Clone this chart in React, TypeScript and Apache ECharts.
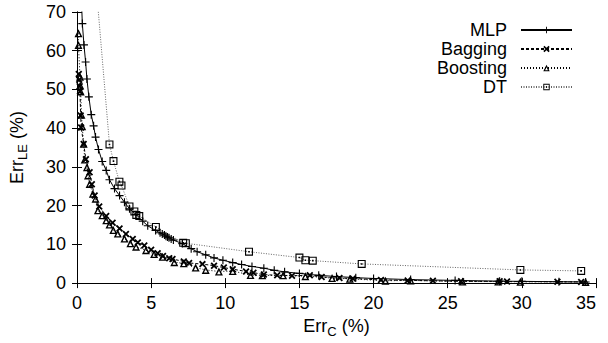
import React, { useEffect, useRef } from "react";
import * as echarts from "echarts";

const seriesNames = ["MLP", "Bagging", "Boosting", "DT"];
const xTicks = { min: 0, max: 35, interval: 5 };
const yTicks = { min: 0, max: 70, interval: 10 };

const mlp: number[][] = [
  [0.28, 75], [0.36, 67], [0.47, 61.5], [0.58, 57.1], [0.67, 52.7], [0.8, 48.1],
  [0.96, 43.5], [1.12, 40.6], [1.25, 37.7], [1.45, 34.5], [1.7, 31.4], [1.97, 29.1],
  [2.19, 26.7], [2.53, 24.4], [2.87, 22.6], [3.2, 20.9], [3.54, 19.2], [3.98, 17.7],
  [4.43, 16], [4.77, 14.8], [5.3, 13.6], [5.6, 13.0], [5.75, 12.7], [5.9, 12.4],
  [6.0, 12.1], [6.1, 11.9], [6.2, 11.7], [6.35, 11.4], [6.5, 11.1], [7.1, 10.2],
  [7.7, 8.9], [8.1, 8.1], [8.68, 7.3], [9.24, 6.5], [9.84, 5.9], [10.5, 5.3],
  [11.1, 4.8], [11.8, 4.3], [12.6, 3.85], [13.3, 3.3], [14, 2.9], [15, 2.5],
  [16.3, 2.0], [17.5, 1.7], [18.8, 1.4], [20, 1.2], [22.5, 0.9], [25.5, 0.7],
  [28.5, 0.5], [30, 0.45], [32.5, 0.35], [34.3, 0.3],
];

const bagging: number[][] = [
  [0.12, 54], [0.15, 52.5], [0.18, 50.8], [0.2, 49.5], [0.25, 43.3], [0.28, 40.2],
  [0.45, 35.9], [0.6, 32], [0.85, 28.6], [1.0, 25.5], [1.19, 22.6], [1.5, 19.8],
  [1.97, 17.3], [2.4, 15.6], [2.87, 14.1], [3.3, 12.7], [3.76, 11.4], [4.1, 10.5],
  [4.54, 9.7], [5.0, 8.6], [5.44, 7.7], [5.8, 7.0], [6.22, 6.4], [6.44, 6.2],
  [7.2, 5.6], [7.56, 5.2], [8.46, 4.9], [9.24, 4.5], [9.9, 4.0], [10.5, 3.6],
  [11.4, 3.0], [11.9, 2.7], [12.6, 2.2], [13.5, 2.0], [14.5, 1.9], [15.7, 2.0],
  [16.5, 1.6], [17.7, 1.3], [18.6, 1.2], [20.5, 0.8], [22.3, 0.7], [24.0, 0.6],
  [25.9, 0.45], [28.5, 0.45], [29.0, 0.4], [32.4, 0.35], [34.0, 0.3],
];

const boosting: number[][] = [
  [0.1, 64.5], [0.1, 61.5], [0.2, 53.3], [0.22, 51], [0.25, 49.5], [0.3, 43.5],
  [0.35, 40.5], [0.45, 36], [0.52, 31.9], [0.67, 29.9], [0.74, 27.8], [0.85, 25.6],
  [1.07, 23.1], [1.25, 21.8], [1.41, 18.8], [1.7, 17.5], [1.97, 16.2], [2.19, 15.1],
  [2.45, 13.7], [2.75, 12.8], [3.2, 11.5], [3.6, 10.3], [3.98, 9.4], [4.65, 8.5],
  [5.2, 7.5], [5.77, 6.8], [6.56, 5.4], [7.2, 5.1], [8.0, 4.0], [8.68, 3.4],
  [9.57, 3.0], [10.5, 3.1], [11.7, 2.1], [12.5, 2.0], [13.9, 2.0], [15.4, 1.8],
  [17.2, 1.3], [18.4, 1.1], [20.8, 0.6], [22.5, 0.7], [26.0, 0.4], [28.4, 0.4],
  [29.9, 0.35], [34.3, 0.3],
];

const dt: number[][] = [
  [1.0, 90], [2.19, 35.8], [2.46, 31.5], [2.86, 26.2], [3.0, 25.2], [3.54, 19.8],
  [3.87, 18.5], [4.0, 17.6], [4.2, 17.3], [5.32, 14.5], [7.16, 10.4], [7.34, 10.3],
  [11.6, 8.1], [15.0, 6.6], [15.4, 5.9], [15.9, 5.8], [19.2, 4.95], [29.9, 3.4],
  [34.0, 3.15],
];

const PLUS = "path://M4.3,0H5.7V10H4.3ZM0,4.3H10V5.7H0Z";
const CROSS = "path://M0,1.8L1.8,0L10,8.2L8.2,10ZM8.2,0L10,1.8L1.8,10L0,8.2Z";
const TRI = "path://M5,0L10,9H0ZM5,3.4L2.8,7.5H7.2Z";
const BOX = "path://M0,0H10V10H0ZM1.4,1.4V8.6H8.6V1.4ZM4,4H6V6H4Z";

const FONT = "Liberation Sans";

export default function App() {
  const ref = useRef<HTMLDivElement>(null);
  useEffect(() => {
    if (!ref.current) return;
    const chart = echarts.init(ref.current, undefined, { renderer: "svg" });
    const axisCommon = {
      axisLine: { show: true, lineStyle: { color: "#000", width: 1 } },
      axisTick: { show: true, inside: true, length: 5, lineStyle: { color: "#000", width: 1 } },
      splitLine: { show: false },
    };
    const rich = {
      n: { fontSize: 18, fontFamily: FONT, color: "#000", lineHeight: 24, verticalAlign: "middle" },
      s: { fontSize: 13, fontFamily: FONT, color: "#000", lineHeight: 13, verticalAlign: "bottom" },
    };
    const mk = (name: string, data: number[][], symbol: string, size: number, lineType: any, lineColor: string) => ({
      name,
      type: "line",
      data,
      xAxisIndex: 0,
      yAxisIndex: 0,
      symbol,
      symbolSize: size,
      showSymbol: true,
      clip: true,
      lineStyle: { color: lineColor, width: 1, type: lineType },
      itemStyle: { color: "#000", borderWidth: 0 },
      emphasis: { disabled: true },
    });
    chart.setOption({
      animation: false,
      grid: { left: 74, right: 12, top: 12, bottom: 58, containLabel: false },
      legend: {
        orient: "vertical",
        align: "right",
        right: 35,
        top: 21,
        padding: 0,
        itemWidth: 51,
        itemHeight: 8,
        itemGap: 1,
        selectedMode: false,
        data: seriesNames,
        textStyle: { fontFamily: FONT, fontSize: 18, color: "#000", lineHeight: 18, padding: [0, 9, 0, 0] },
      },
      xAxis: [
        {
          type: "value",
          position: "bottom",
          ...xTicks,
          ...axisCommon,
          axisLabel: { fontFamily: FONT, fontSize: 18, color: "#000", margin: 11, alignMaxLabel: "right" },
          name: "{n|Err}{s|C}{n| (%)}",
          nameLocation: "middle",
          nameGap: 28,
          nameTextStyle: { rich },
        },
        {
          type: "value",
          position: "top",
          ...xTicks,
          ...axisCommon,
          axisLabel: { show: false },
        },
      ],
      yAxis: [
        {
          type: "value",
          position: "left",
          ...yTicks,
          ...axisCommon,
          axisLabel: { fontFamily: FONT, fontSize: 18, color: "#000", margin: 11 },
          name: "{n|Err}{s|LE}{n| (%)}",
          nameLocation: "middle",
          nameRotate: 90,
          nameGap: 48,
          nameTextStyle: { rich },
        },
        {
          type: "value",
          position: "right",
          ...yTicks,
          ...axisCommon,
          axisLabel: { show: false },
        },
      ],
      series: [
        mk("DT", dt, BOX, 8, [1, 1.5], "#666"),
        mk("Boosting", boosting, TRI, 8, [1, 2], "#000"),
        mk("Bagging", bagging, CROSS, 7, [3, 2], "#000"),
        mk("MLP", mlp, PLUS, 8, "solid", "#000"),
      ],
    });
    return () => chart.dispose();
  }, []);
  return <div ref={ref} style={{ position: "fixed", left: 0, top: 0, width: 608, height: 343, background: "#fff" }} />;
}
